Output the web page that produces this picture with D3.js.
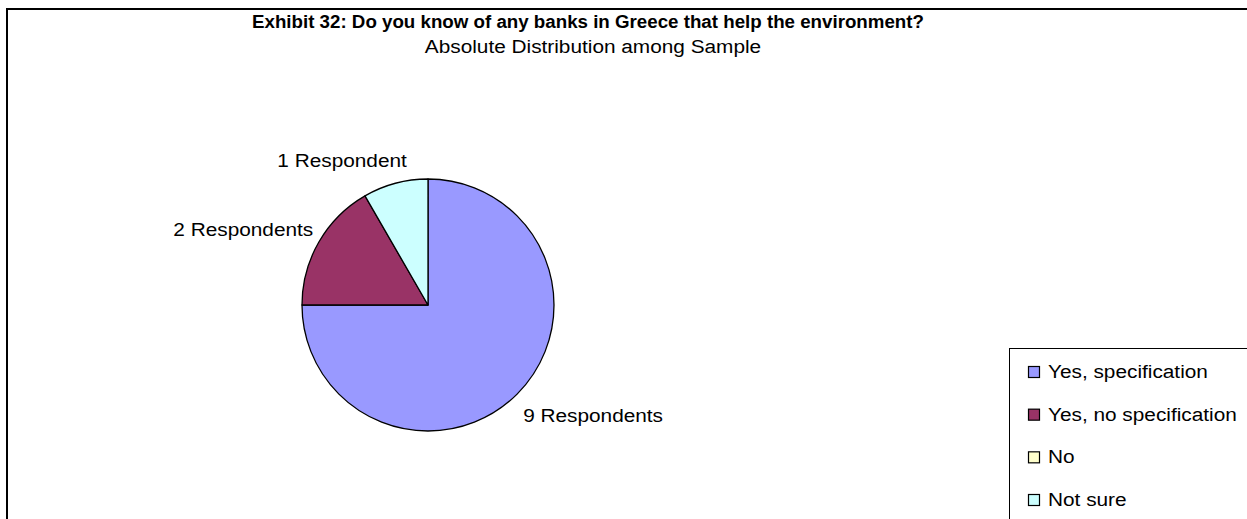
<!DOCTYPE html>
<html><head><meta charset="utf-8">
<script src="https://cdn.jsdelivr.net/npm/d3@7"></script>
<style>
html,body{margin:0;padding:0;background:#fff;overflow:hidden}
text{font-family:"Liberation Sans",Arial,sans-serif;fill:#000}
</style></head>
<body>
<svg id="chart" width="1247" height="519"></svg>
<script>
// ---- data ----
const categories = ["Yes, specification", "Yes, no specification", "No", "Not sure"];
const values = [9, 2, 0, 1];
const labelTexts = ["9 Respondents", "2 Respondents", "", "1 Respondent"];
const colors = ["#9999FF", "#993366", "#FFFFCC", "#CCFFFF"];
const titleText = "Exhibit 32: Do you know of any banks in Greece that help the environment?";
const subtitleText = "Absolute Distribution among Sample";

// ---- layout ----
const W = 1247, H = 519;
const cx = 428, cy = 305, r = 126;
const FS = 18;             // font size
const STRETCH = 1.155;     // horizontal stretch of regular text
const TSTRETCH = 1.04;     // horizontal stretch of bold title
const labelNudge = [[-1, 15], [3, -7], [0, 0], [14, -13]];

function stretch(sel, f) {
  sel.each(function() {
    const w = this.getComputedTextLength();
    d3.select(this).attr("textLength", w * f).attr("lengthAdjust", "spacingAndGlyphs");
  });
  return sel;
}

const svg = d3.select("#chart");
svg.append("rect").attr("x", 7).attr("y", 9).attr("width", 1400).attr("height", 700)
  .attr("fill", "#fff").attr("stroke", "#000").attr("stroke-width", 2);

stretch(svg.append("text").attr("x", 588).attr("y", 28).attr("text-anchor", "middle")
  .attr("font-weight", "bold").attr("font-size", FS).text(titleText), TSTRETCH);
stretch(svg.append("text").attr("x", 593).attr("y", 53).attr("text-anchor", "middle")
  .attr("font-size", FS).text(subtitleText), STRETCH);

const data = categories.map((c, i) => ({cat: c, value: values[i], label: labelTexts[i], color: colors[i], i}));
const pie = d3.pie().value(d => d.value).sort(null);
const arcs = pie(data);
const arc = d3.arc().innerRadius(0).outerRadius(r);
const g = svg.append("g").attr("transform", `translate(${cx},${cy})`);
g.selectAll("path").data(arcs.filter(a => a.data.value > 0)).join("path")
  .attr("d", arc).attr("fill", d => d.data.color)
  .attr("stroke", "#000").attr("stroke-width", 1.3).attr("stroke-linejoin", "round");

arcs.filter(a => a.data.value > 0).forEach(a => {
  const mid = (a.startAngle + a.endAngle) / 2;
  const sx = Math.sin(mid), sy = -Math.cos(mid);
  const n = labelNudge[a.data.i];
  const t = g.append("text")
    .attr("x", (r + 10) * sx + n[0]).attr("y", (r + 10) * sy + n[1])
    .attr("text-anchor", sx < 0 ? "end" : "start")
    .attr("dominant-baseline", "central")
    .attr("font-size", FS).text(a.data.label);
  stretch(t, STRETCH);
});

// legend
const lg = svg.append("g");
lg.append("rect").attr("x", 1009.5).attr("y", 348.5).attr("width", 400).attr("height", 300)
  .attr("fill", "#fff").attr("stroke", "#000").attr("stroke-width", 1);
const ly = d3.scalePoint().domain(categories).range([372, 500]);
const items = lg.selectAll("g.item").data(data).join("g").attr("class", "item")
  .attr("transform", d => `translate(1028,${ly(d.cat)})`);
items.append("rect").attr("x", 0.5).attr("y", -5.5).attr("width", 11).attr("height", 11)
  .attr("fill", d => d.color).attr("stroke", "#000").attr("stroke-width", 1.2);
items.append("text").attr("x", 20).attr("y", 0).attr("dominant-baseline", "central")
  .attr("font-size", FS).text(d => d.cat)
  .call(s => stretch(s, STRETCH));
</script>
</body></html>
